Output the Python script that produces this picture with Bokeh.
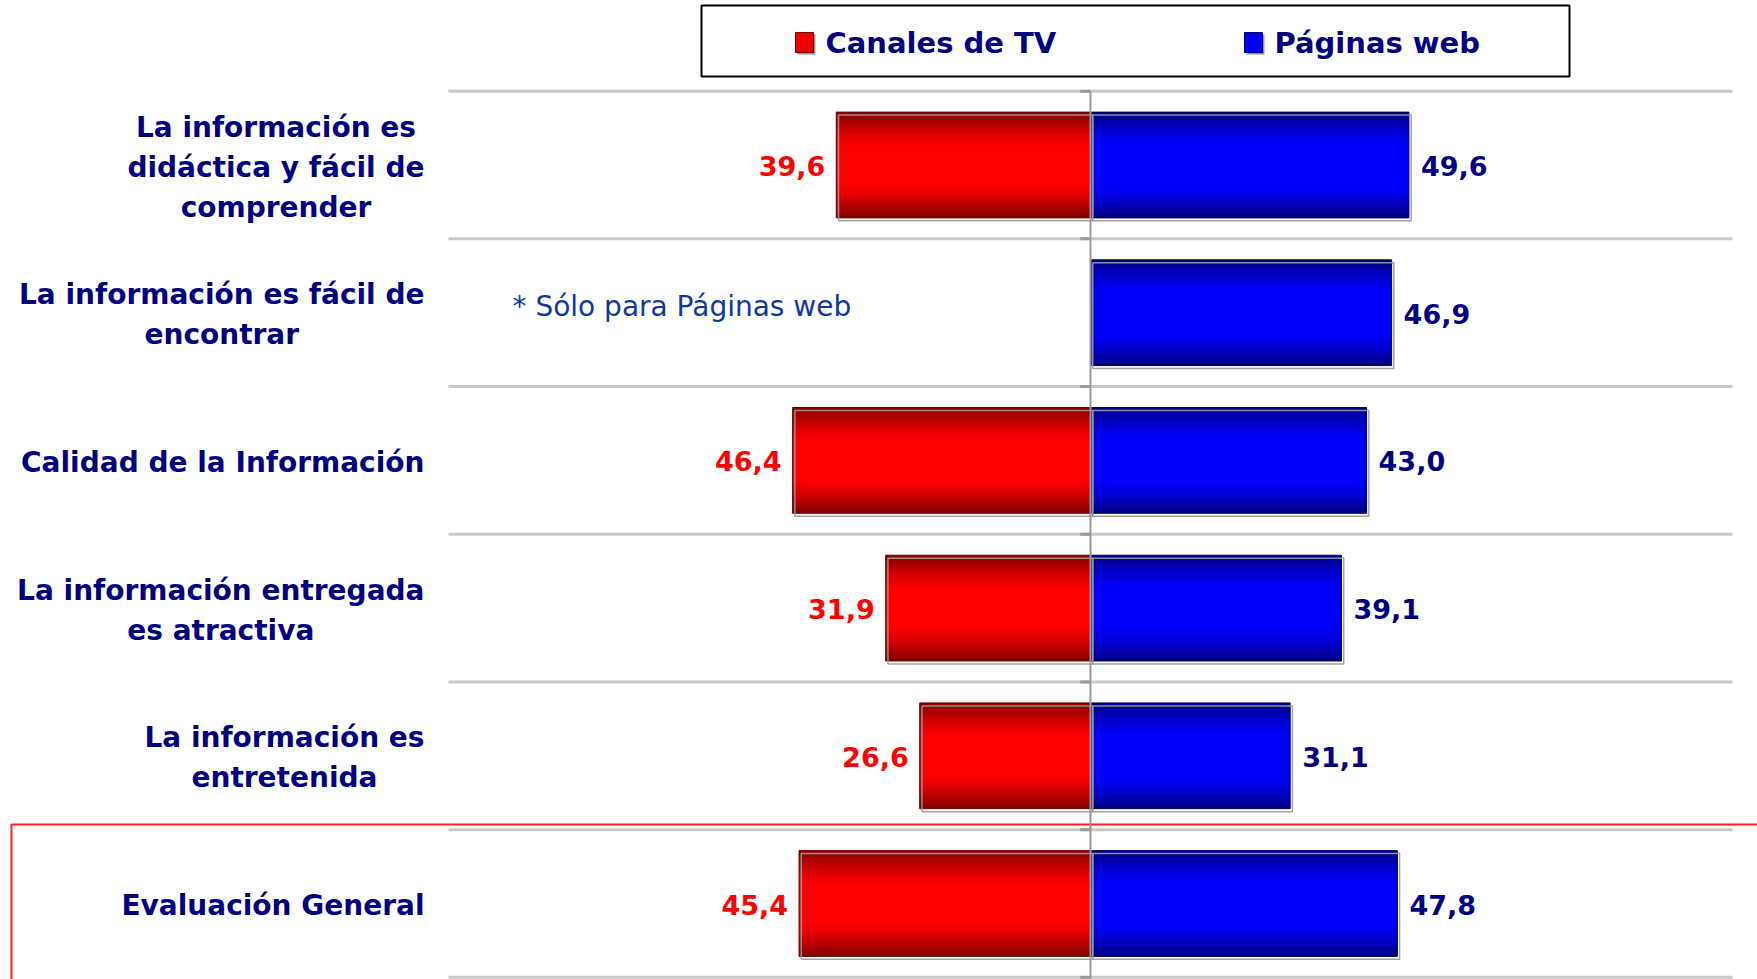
from bokeh.plotting import figure
from bokeh.embed import file_html
from bokeh.resources import INLINE
from bokeh.core.properties import value
from bokeh.models import ColumnDataSource

# ---------------- data ----------------
categories = [
    "La información es\ndidáctica y fácil de\ncomprender",
    "La información es fácil de\nencontrar",
    "Calidad de la Información",
    "La información entregada\nes atractiva",
    "La información es\nentretenida",
    "Evaluación General",
]
tv_values = [39.6, None, 46.4, 31.9, 26.6, 45.4]
web_values = [49.6, 46.9, 43.0, 39.1, 31.1, 47.8]
series_names = ["Canales de TV", "Páginas web"]
note_text = "* Sólo para Páginas  web"

def fmt(v):
    return f"{v:.1f}".replace(".", ",")

# ---------------- layout / style ----------------
W, H = 1757, 979
PX_PER_UNIT = 6.42
ROW_PX = 147.7
X0_PX = 1090.0          # centre line, px
ROW0_PX = 164.5         # first row centre, px
x_start = -X0_PX / PX_PER_UNIT
x_end = (W - X0_PX) / PX_PER_UNIT
y_end = ROW0_PX / ROW_PX
y_start = y_end - H / ROW_PX
BAR_H = 0.716
FONT = "DejaVu Sans"
NAVY = "#000080"

p = figure(width=W, height=H, x_range=(x_start, x_end), y_range=(y_start, y_end),
           output_backend="svg", toolbar_location=None,
           min_border=0, min_border_left=0, min_border_right=0,
           min_border_top=0, min_border_bottom=0)
p.axis.visible = False
p.grid.visible = False
p.outline_line_color = None
p.background_fill_color = "white"

n = len(categories)
rows = [-k for k in range(n)]

# separators
sep_y = [0.5 - k for k in range(n + 1)]
p.segment(x0=[-100] * len(sep_y), x1=[100] * len(sep_y), y0=sep_y, y1=sep_y,
          line_color="#c8c8c8", line_width=3)
p.segment(x0=[-1.6] * len(sep_y), x1=[0] * len(sep_y), y0=sep_y, y1=sep_y,
          line_color="#999999", line_width=3)

def px2x(px):
    return (px - X0_PX) / PX_PER_UNIT
def py2y(py):
    return y_end - py / ROW_PX

# red highlight box around last row
p.quad(left=[px2x(11)], right=[x_end + 2], top=[py2y(824)],
       bottom=[y_start - 1], fill_color=None, line_color="#ff2020", line_width=2)

# gradient bars via horizontal strips
NS = 36
OVER = 1.2 / ROW_PX
def shade(t):
    d = abs(2 * t - 1)
    if d < 0.35:
        return 1.0
    return 1.0 - 0.5 * ((d - 0.35) / 0.65) ** 1.3

def strips(vals, sign, base):
    L, R, T, B, C = [], [], [], [], []
    for r, v in zip(rows, vals):
        if v is None:
            continue
        top = r + BAR_H / 2
        for i in range(NS):
            t0 = i / NS
            t1 = (i + 1) / NS
            s = shade((t0 + t1) / 2)
            c = int(round(255 * s))
            col = "#%02x0000" % c if base == "r" else "#0000%02x" % c
            a, b = 0, sign * v
            L.append(min(a, b)); R.append(max(a, b))
            T.append(top - t0 * BAR_H)
            B.append(max(top - t1 * BAR_H - OVER, top - BAR_H))
            C.append(col)
    p.quad(left=L, right=R, top=T, bottom=B, fill_color=C, line_color=None)

strips(tv_values, -1, "r")
strips(web_values, 1, "b")

# bar outlines
for vals, sign, edge in ((tv_values, -1, "#6a0000"), (web_values, 1, "#000060")):
    ys = [r for r, v in zip(rows, vals) if v is not None]
    vs = [v for v in vals if v is not None]
    lefts = [min(0, sign * v) for v in vs]
    rights = [max(0, sign * v) for v in vs]
    p.quad(left=lefts, right=rights, top=[y + BAR_H / 2 for y in ys],
           bottom=[y - BAR_H / 2 for y in ys], fill_color=None,
           line_color=edge, line_width=1)
    p.quad(left=[l + 0.35 for l in lefts], right=[r + 0.35 for r in rights],
           top=[y + BAR_H / 2 - 0.02 for y in ys], bottom=[y - BAR_H / 2 - 0.02 for y in ys],
           fill_color=None, line_color="#9a9a9a", line_width=1.5, line_alpha=0.9)

# centre axis line
p.segment(x0=[0], x1=[0], y0=[0.5], y1=[y_start - 1], line_color="#999999", line_width=2)

# value labels
tv_y = [r for r, v in zip(rows, tv_values) if v is not None]
tv_x = [-v for v in tv_values if v is not None]
tv_t = [fmt(v) for v in tv_values if v is not None]
p.text(x=tv_x, y=tv_y, text=tv_t, x_offset=-11, y_offset=1, text_align="right",
       text_baseline="middle", text_color="#ff0000", text_font=value(FONT),
       text_font_style="bold", text_font_size="27px")
p.text(x=web_values, y=rows, text=[fmt(v) for v in web_values], x_offset=12, y_offset=1,
       text_align="left", text_baseline="middle", text_color=NAVY,
       text_font=value(FONT), text_font_style="bold", text_font_size="27px")

# category labels (centred lines, block right-aligned)
CW = {" ": .348, "a": .675, "b": .716, "c": .593, "d": .716, "e": .678, "f": .435,
      "g": .716, "i": .343, "l": .343, "m": 1.042, "n": .712, "o": .687, "p": .716,
      "r": .493, "s": .595, "t": .478, "u": .712, "v": .652, "y": .652, "á": .675,
      "ó": .687, "C": .734, "E": .683, "G": .821, "I": .372, "L": .637}
LBL_FS = 28
def width(s):
    return sum(CW.get(ch, .65) for ch in s) * LBL_FS

lx, ly, lt, lxo, lyo = [], [], [], [], []
RIGHT_EDGE_PX = -24  # relative to x=-100
for r, cat in zip(rows, categories):
    lines = cat.split("\n")
    wmax = max(width(s) for s in lines)
    for i, s in enumerate(lines):
        lx.append(-100); ly.append(r); lt.append(s)
        lxo.append(RIGHT_EDGE_PX - wmax / 2)
        lyo.append((i - (len(lines) - 1) / 2) * 40 + 2)
src = ColumnDataSource(dict(x=lx, y=ly, text=lt, xo=lxo, yo=lyo))
p.text(x="x", y="y", text="text", x_offset="xo", y_offset="yo", source=src,
       text_align="center", text_baseline="middle", text_color=NAVY,
       text_font=value(FONT), text_font_style="bold", text_font_size=f"{LBL_FS}px")

# note for row 1
p.text(x=[-100], y=[rows[1]], text=[note_text], x_offset=64, y_offset=-6,
       text_align="left", text_baseline="middle", text_color="#1038a0",
       text_font=value(FONT), text_font_size="28px")

# legend (manual)
p.quad(left=[px2x(701)], right=[px2x(1569)], top=[py2y(5)], bottom=[py2y(76)],
       fill_color="white", line_color="black", line_width=2)
sw_left = [px2x(795), px2x(1244)]
sw_right = [px2x(813), px2x(1262)]
p.quad(left=[l + 0.3 for l in sw_left], right=[r + 0.3 for r in sw_right],
       top=[py2y(34)] * 2, bottom=[py2y(54)] * 2, fill_color="#909090", line_color=None)
p.quad(left=sw_left, right=sw_right, top=[py2y(32)] * 2, bottom=[py2y(52)] * 2,
       fill_color=["#ee0000", "#0000ee"], line_color=["#700000", "#000070"], line_width=1)
p.text(x=[px2x(825), px2x(1274)], y=[py2y(42)] * 2, text=series_names,
       text_align="left", text_baseline="middle", text_color=NAVY,
       text_font=value(FONT), text_font_style="bold", text_font_size="29px")

open("out.html", "w").write(file_html(p, INLINE))
